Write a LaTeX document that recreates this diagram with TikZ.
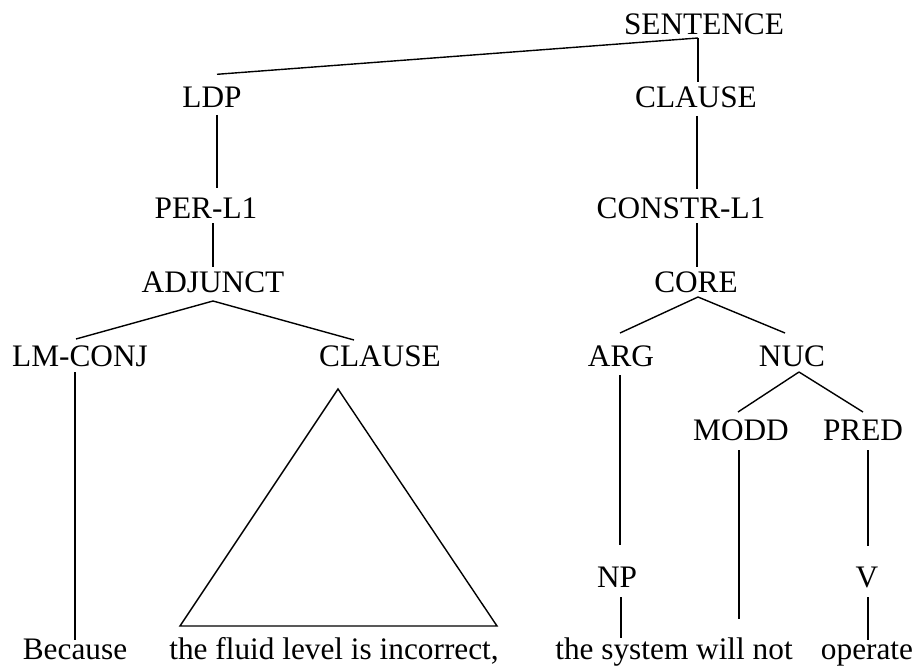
\documentclass[tikz,border=0pt]{standalone}
\usepackage{fontspec}
\setmainfont{Liberation Serif}
\begin{document}
\begin{tikzpicture}[x=1pt,y=-1pt,
  lab/.style={inner sep=0pt,outer sep=0pt,anchor=base,text height=20.7pt,text depth=0pt,font=\fontsize{31.3}{36}\selectfont},
  edge/.style={line width=1.4pt,line cap=butt}]
\useasboundingbox (0,0) rectangle (915,666);
% nodes
\node[lab] (sentence) at (704,35) {SENTENCE};
\node[lab] (ldp) at (212,108) {LDP};
\node[lab] (clauseR) at (696,108) {CLAUSE};
\node[lab] (perl) at (206,218) {PER-L1};
\node[lab] (constr) at (681,218) {CONSTR-L1};
\node[lab] (adjunct) at (213,292) {ADJUNCT};
\node[lab] (core) at (696,292) {CORE};
\node[lab] (lmconj) at (80,366) {LM-CONJ};
\node[lab] (clauseL) at (380,366) {CLAUSE};
\node[lab] (arg) at (621,366) {ARG};
\node[lab] (nuc) at (792,366) {NUC};
\node[lab] (modd) at (741,440) {MODD};
\node[lab] (pred) at (863,440) {PRED};
\node[lab] (np) at (617,587) {NP};
\node[lab] (v) at (867,587) {V};
\node[lab] (because) at (75,659) {Because};
\node[lab] (fluid) at (334,659) {the fluid level is incorrect,};
\node[lab] (system) at (674,659) {the system will not};
\node[lab] (operate) at (867,659) {operate};
% connectors
\draw[edge] ([xshift=-6pt,yshift=-3pt]sentence.south) -- ([xshift=5pt,yshift=13pt]ldp.north);
\draw[edge] ([xshift=-6pt,yshift=-3pt]sentence.south) -- ([xshift=2pt,yshift=5pt]clauseR.north);
\draw[edge] ([xshift=5pt,yshift=-7pt]ldp.south) -- ([xshift=11pt,yshift=9.3pt]perl.north);
\draw[edge] ([xshift=1pt,yshift=-8pt]clauseR.south) -- ([xshift=16pt,yshift=8.3pt]constr.north);
\draw[edge] ([xshift=7pt,yshift=-5pt]perl.south) -- ([yshift=4.3pt]adjunct.north);
\draw[edge] ([xshift=16pt,yshift=-5pt]constr.south) -- ([xshift=1pt,yshift=4.3pt]core.north);
\draw[edge] ([yshift=-9pt]adjunct.south) -- ([xshift=-4pt,yshift=6.3pt]lmconj.north);
\draw[edge] ([yshift=-9pt]adjunct.south) -- ([xshift=-26pt,yshift=5.3pt]clauseL.north);
\draw[edge] ([xshift=2pt,yshift=-5pt]core.south) -- ([xshift=-1pt,yshift=12.3pt]arg.north);
\draw[edge] ([xshift=2pt,yshift=-5pt]core.south) -- ([xshift=-7pt,yshift=12.3pt]nuc.north);
\draw[edge] ([xshift=7pt,yshift=-6pt]nuc.south) -- ([xshift=-3pt,yshift=7.3pt]modd.north);
\draw[edge] ([xshift=7pt,yshift=-6pt]nuc.south) -- ([yshift=7.3pt]pred.north);
\draw[edge] ([xshift=-5pt,yshift=-6pt]lmconj.south) -- ([yshift=-1.7pt]because.north);
\draw[edge,line join=miter] ([xshift=-42pt,yshift=-23pt]clauseL.south) -- ++(-158,237) -- ++(317,0) -- cycle;
\draw[edge] ([xshift=-1pt,yshift=-9pt]arg.south) -- ([xshift=3pt,yshift=21.3pt]np.north);
\draw[edge] ([xshift=4pt,yshift=-10pt]np.south) -- ([xshift=-53pt]system.north);
\draw[edge] ([xshift=-2pt,yshift=-10pt]modd.south) -- ([xshift=65pt,yshift=19.3pt]system.north);
\draw[edge] ([xshift=5pt,yshift=-10pt]pred.south) -- ([xshift=1pt,yshift=20.3pt]v.north);
\draw[edge] ([xshift=1pt,yshift=-10pt]v.south) -- ([xshift=1pt,yshift=-1.7pt]operate.north);
\end{tikzpicture}
\end{document}
